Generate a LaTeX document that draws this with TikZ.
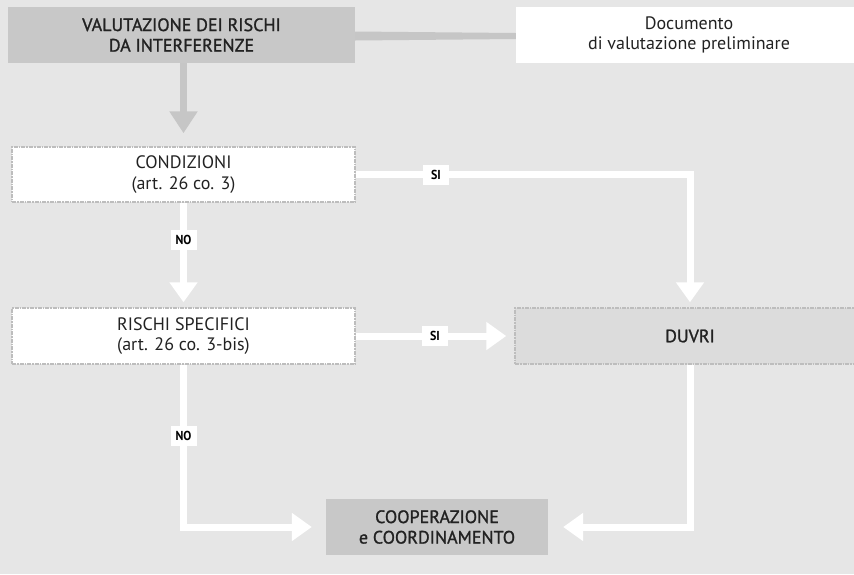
\documentclass[tikz,border=0pt]{standalone}
\usepackage{fontspec}
\setmainfont{PT Sans}
\newfontfamily\semifont{PT Sans}[FakeBold=1.2]
\newfontfamily\labfont{PT Sans}[FakeStretch=0.92]
\usetikzlibrary{arrows.meta,calc}
\definecolor{bg}{HTML}{E6E6E6}
\definecolor{darkbox}{HTML}{C8C8C8}
\definecolor{duvrifill}{HTML}{DCDCDC}
\definecolor{dashgray}{HTML}{BDBDBD}
\definecolor{arrowgray}{HTML}{C6C6C6}
\definecolor{txt}{HTML}{222222}
\begin{document}
\begin{tikzpicture}[x=1pt,y=-1pt,
  box/.style={align=center, text=txt, inner sep=0pt,
    font=\fontsize{18}{20.5}\selectfont, minimum height=56pt},
  dashbox/.style={box, draw=dashgray, line width=1.5pt,
    dash pattern=on 4pt off 1pt on 1.5pt off 1pt},
  flow/.style={draw=white, line width=7pt, line join=miter,
    -{Triangle[width=27pt,length=20pt]}},
  lab/.style={fill=white, text=black, inner sep=0pt,
    minimum width=26pt, minimum height=20pt,
    font=\labfont\bfseries\fontsize{13}{13}\selectfont}]
\fill[bg] (0,0) rectangle (854,574);
\useasboundingbox (0,0) rectangle (854,574);

\node[box, fill=darkbox, minimum width=347pt, font=\semifont\fontsize{18}{20.5}\selectfont] (val) at (181.5,35)
  {VALUTAZIONE DEI RISCHI\\DA INTERFERENZE};
\node[box, fill=white, minimum width=346pt] (doc) at (689,35)
  {Documento\\di valutazione preliminare};
\node[dashbox, fill=white, minimum width=343pt, minimum height=55pt] (cond) at (183.5,174.5)
  {CONDIZIONI\\(art. 26 co. 3)};
\node[dashbox, fill=white, minimum width=343pt] (risc) at (183.5,336)
  {RISCHI SPECIFICI\\(art. 26 co. 3-bis)};
\node[dashbox, fill=duvrifill, minimum width=350pt, font=\semifont\fontsize{18}{20.5}\selectfont] (duvri) at (690,336)
  {DUVRI};
\node[box, fill=darkbox, minimum width=222pt, font=\semifont\fontsize{18}{20.5}\selectfont] (coop) at (437,527)
  {COOPERAZIONE\\e COORDINAMENTO};

% tapered grey link
\fill[arrowgray] ($(val.east)+(0,-3.5)$) -- ($(doc.west)+(0,-2)$)
  -- ($(doc.west)+(0,4)$) -- ($(val.east)+(0,5.5)$) -- cycle;
% grey arrow down
\draw[arrowgray, line width=7pt, -{Triangle[width=27pt,length=22pt]},
  shorten >=13pt] (val.south -| cond.north) -- (cond.north);

\draw[flow, shorten >=5pt] (cond.south) -- node[lab, pos=0.36]{NO} (risc.north);
\draw[flow, shorten >=5pt] (cond.east) -| node[lab, pos=0.12]{SI} (duvri.north);
\draw[flow, shorten >=8pt] (risc.east) -- node[lab, pos=0.5]{SI} (duvri.west);
\draw[flow, shorten >=14pt] (risc.south) |- node[lab, pos=0.22]{NO} (coop.west);
\draw[flow, shorten >=15pt] (duvri.south) |- (coop.east);
\end{tikzpicture}
\end{document}
